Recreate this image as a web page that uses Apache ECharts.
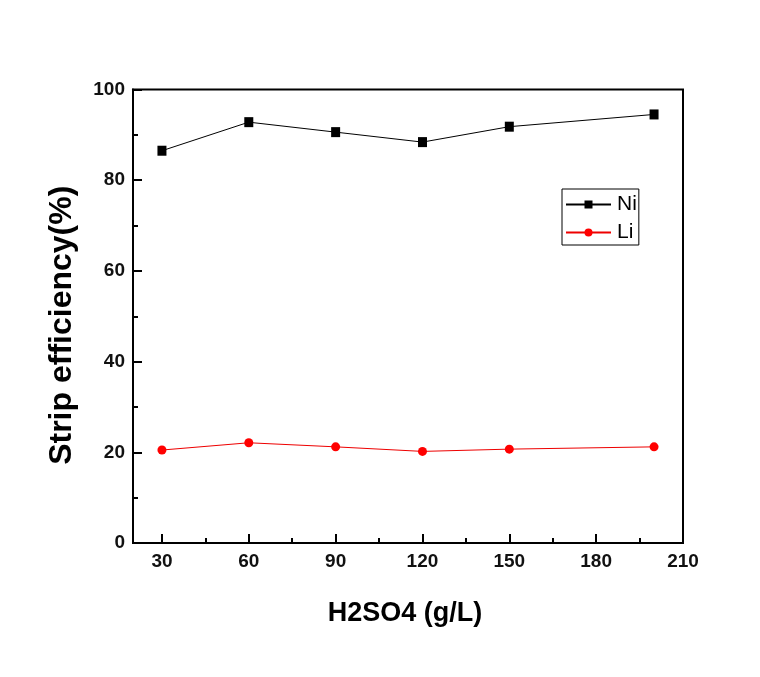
<!DOCTYPE html>
<html>
<head>
<meta charset="utf-8">
<script src="https://cdn.jsdelivr.net/npm/echarts@6/dist/echarts.min.js"></script>
<style>
html,body{margin:0;padding:0;background:#fff;}
#chart{width:760px;height:677px;}
</style>
</head>
<body>
<div id="chart"></div>
<script>
const xValues = [30, 60, 90, 120, 150, 200];
const niValues = [86.5, 92.8, 90.6, 88.4, 91.8, 94.5];
const liValues = [20.5, 22.1, 21.2, 20.2, 20.7, 21.2];
const xTickLabels = [30, 60, 90, 120, 150, 180, 210];
const xMinorTicks = [45, 75, 105, 135, 165, 195];
const seriesNames = ['Ni', 'Li'];
const xTitle = 'H2SO4 (g/L)';
const yTitle = 'Strip efficiency(%)';

const FONT = '"Liberation Sans", Arial, sans-serif';
const chart = echarts.init(document.getElementById('chart'));

const pairs = (vals) => xValues.map((x, i) => [x, vals[i]]);

chart.setOption({
  animation: false,
  backgroundColor: '#fff',
  grid: {
    left: 133, right: 77, top: 89.5, bottom: 134,
    show: true, borderColor: '#000', borderWidth: 2, backgroundColor: 'transparent'
  },
  legend: {
    data: seriesNames,
    orient: 'vertical',
    left: 562, top: 189,
    borderColor: '#000', borderWidth: 1,
    padding: [5, 2, 2, 3],
    itemWidth: 45, itemHeight: 10, itemGap: 7,
    textStyle: { fontFamily: FONT, fontSize: 21, color: '#000', padding: [0, 0, 0, 1] }
  },
  xAxis: [{
    type: 'value', min: 20, max: 210,
    name: xTitle, nameLocation: 'middle', nameGap: 57,
    nameTextStyle: { fontFamily: FONT, fontSize: 27, fontWeight: 'bold', color: '#000', padding: [0, 6, 0, 0] },
    axisLine: { show: true, onZero: false, lineStyle: { color: '#000', width: 2 } },
    axisTick: { show: true, inside: true, length: 9, customValues: xTickLabels, lineStyle: { color: '#000', width: 2 } },
    axisLabel: { customValues: xTickLabels, margin: 9, fontFamily: FONT, fontSize: 19, fontWeight: 'bold', color: '#111' },
    splitLine: { show: false }
  }, {
    type: 'value', min: 20, max: 210, position: 'bottom',
    axisLine: { show: false },
    axisTick: { show: true, inside: true, length: 5, customValues: xMinorTicks, lineStyle: { color: '#000', width: 2 } },
    axisLabel: { show: false, customValues: xMinorTicks },
    splitLine: { show: false }
  }],
  yAxis: {
    type: 'value', min: 0, max: 100, interval: 20,
    name: yTitle, nameLocation: 'middle', nameGap: 55, nameRotate: 90,
    nameTextStyle: { fontFamily: FONT, fontSize: 32, fontWeight: 'bold', color: '#000', padding: [0, 18, 0, 0] },
    axisLine: { show: true, onZero: false, lineStyle: { color: '#000', width: 2 } },
    axisTick: { show: true, inside: true, length: 9, lineStyle: { color: '#000', width: 2 } },
    minorTick: { show: true, splitNumber: 2, length: 5, lineStyle: { color: '#000', width: 2 } },
    axisLabel: { margin: 8, fontFamily: FONT, fontSize: 19, fontWeight: 'bold', color: '#111' },
    splitLine: { show: false },
    minorSplitLine: { show: false }
  },
  series: [{
    name: seriesNames[0], type: 'line', xAxisIndex: 0,
    data: pairs(niValues),
    symbol: 'rect', symbolSize: [9, 10],
    itemStyle: { color: '#000' },
    lineStyle: { color: '#000', width: 1 }
  }, {
    name: seriesNames[1], type: 'line', xAxisIndex: 0,
    data: pairs(liValues),
    symbol: 'circle', symbolSize: 9,
    itemStyle: { color: '#f00' },
    lineStyle: { color: '#e00', width: 1 }
  }]
});
</script>
</body>
</html>
